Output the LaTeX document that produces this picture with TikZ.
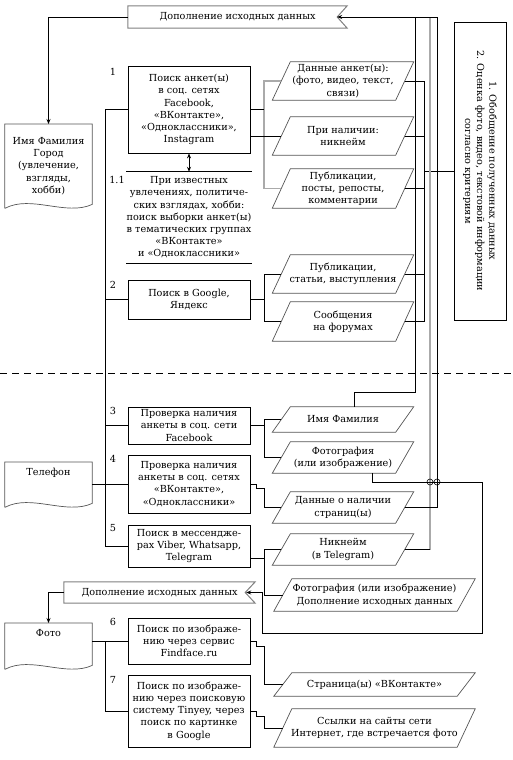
\documentclass[tikz,border=0pt]{standalone}
\usepackage{fontspec}
\setmainfont{DejaVu Serif}
\usetikzlibrary{arrows.meta,calc,positioning}
\definecolor{shapegray}{HTML}{555555}
\definecolor{linegray}{HTML}{AAAAAA}

\begin{document}
\begin{tikzpicture}[x=1pt,y=-1pt,
    every node/.style={font=\fontsize{9.7}{12.2}\selectfont},
    proc/.style={rectangle, draw=black, line width=0.8pt, minimum width=122, align=center, inner xsep=2pt, inner ysep=1pt},
    para/.style={rectangle, minimum width=123, align=center, inner sep=1pt},
    widepara/.style={rectangle, minimum width=183, align=center, inner sep=1pt},
    doc/.style={rectangle, minimum width=87, anchor=north, align=center, inner sep=2pt},
    banner/.style={rectangle, align=center, inner sep=2pt},
    num/.style={inner sep=0pt},
    line/.style={draw=black, line width=0.8pt},
    gline/.style={draw=linegray, line width=1.8pt},
    arr/.style={line, -{Stealth[length=5pt,width=4pt]}},
    outl/.style={draw=shapegray, line width=0.7pt}
]
    \useasboundingbox (0,0) rectangle (512,760);

    % helper columns
    \coordinate (tr) at (105,0);
    \coordinate (bx) at (264,0);
    \coordinate (cx) at (424,0);
    \coordinate (topA) at (415,17);
    \coordinate (topB) at (430,17);
    \coordinate (topC) at (437,17);
    \coordinate (fbA) at (415,392);
    \coordinate (lpA) at (482,482);
    \coordinate (lpB) at (262,633);
    \coordinate (dl) at (0,373);
    \coordinate (dr) at (512,373);

    % Upper part
    \node[banner, minimum width=219, minimum height=22] (ban1) at (237.5,17) {Дополнение исходных данных};
    \node[doc, minimum height=84] (namedoc) at (48.5,124) {Имя Фамилия\\Город\\(увлечение,\\взгляды,\\хобби)};

    \node[proc, minimum height=87] (box1) at (189,109.5) {Поиск анкет(ы)\\в соц. сетях\\Facebook,\\«ВКонтакте»,\\«Одноклассники»,\\Instagram};
    \node[num] (n1) at (113,72) {1};
    \node[rectangle, minimum width=122, minimum height=91, align=center, inner sep=0pt] (n11) at (189,217.5) {При известных\\увлечениях, политиче-\\ских взглядах, хобби:\\поиск выборки анкет(ы)\\в тематических группах\\«ВКонтакте»\\и «Одноклассники»};
    \node[num] (n11lbl) at (117,180) {1.1};
    \node[proc, minimum height=39] (box2) at (189,299.5) {Поиск в Google,\\Яндекс};
    \node[num] (n2) at (113,285) {2};

    \node[para, minimum height=38] (p1) at (343,81) {Данные анкет(ы):\\(фото, видео, текст,\\связи)};
    \node[para, minimum height=38] (p2) at (343,136) {При наличии:\\никнейм};
    \node[para, minimum height=39] (p3) at (343,188.5) {Публикации,\\посты, репосты,\\комментарии};
    \node[para, minimum height=38] (p4) at (343,274) {Публикации,\\статьи, выступления};
    \node[para, minimum height=39] (p5) at (343,321.5) {Сообщения\\на форумах};

    \node[rectangle, draw=black, line width=0.8pt, minimum width=298, minimum height=52, rotate=-90, align=center] (summ) at (480,171) {1. Обобщение полученных данных\\2. Оценка фото, видео, текстовой информации\\согласно критериям};

    % Lower part
    \node[proc, minimum height=37] (box3) at (189,425.5) {Проверка наличия\\анкеты в соц. сети\\Facebook};
    \node[num] (n3) at (113,411) {3};
    \node[proc, minimum height=58] (box4) at (189,484) {Проверка наличия\\анкеты в соц. сетях\\«ВКонтакте»,\\«Одноклассники»};
    \node[num] (n4) at (113,459) {4};
    \node[proc, minimum height=42] (box5) at (189,546) {Поиск в мессендже-\\рах Viber, Whatsapp,\\Telegram};
    \node[num] (n5) at (113,528) {5};
    \node[doc, minimum height=45] (phone) at (48.5,462) {Телефон\\[14pt]\mbox{}};

    \node[para, minimum height=25] (p6) at (343,419.5) {Имя Фамилия};
    \node[para, minimum height=31] (p7) at (343,457.5) {Фотография\\(или изображение)};
    \node[para, minimum height=31] (p8) at (343,507.5) {Данные о наличии\\страниц(ы)};
    \node[para, minimum height=31] (p9) at (343,549.5) {Никнейм\\(в Telegram)};
    \node[widepara, minimum height=32] (p10) at (374.5,595) {Фотография (или изображение)\\Дополнение исходных данных};

    \node[banner, minimum width=191, minimum height=21] (ban2) at (159.5,592.5) {Дополнение исходных данных};
    \node[doc, minimum height=46] (photo) at (48.5,623) {Фото\\[14pt]\mbox{}};
    \node[proc, minimum height=46] (box6) at (189,641) {Поиск по изображе-\\нию через сервис\\Findface.ru};
    \node[num] (n6) at (113,622) {6};
    \node[proc, minimum height=72] (box7) at (189,711) {Поиск по изображе-\\нию через поисковую\\систему Tinyey, через\\поиск по картинке\\в Google};
    \node[num] (n7) at (113,680) {7};
    \node[widepara, minimum height=23] (p11) at (374.5,684.5) {Страница(ы) «ВКонтакте»};
    \node[widepara, minimum height=38] (p12) at (374.5,728) {Ссылки на сайты сети\\Интернет, где встречается фото};

    % Outlines
    \foreach \p in {p1,p2,p3,p4,p5,p6,p7,p8,p9,p10,p11,p12}
        \draw[outl] ([xshift=-9pt]\p.south west) -- ([xshift=9pt]\p.north west) -- ([xshift=9pt]\p.north east) -- ([xshift=-9pt]\p.south east) -- cycle;
    \foreach \b in {ban1,ban2}
        \draw[outl, draw=gray, line width=1pt] (\b.north west) -- (\b.north east) -- ([xshift=-10pt]\b.east) -- (\b.south east) -- (\b.south west) -- cycle;
    \foreach \d in {namedoc,phone,photo}
        \draw[outl] (\d.south west) -- (\d.north west) -- (\d.north east) -- ([yshift=4pt]\d.south east) .. controls ([xshift=-26pt,yshift=-8pt]\d.south east) and ([xshift=26pt,yshift=14pt]\d.south west) .. (\d.south west);
    \draw[line] (n11.north west) -- (n11.north east) (n11.south west) -- (n11.south east);

    % Separator
    \draw[line, dash pattern=on 7pt off 5pt] (dl) -- (dr);

    % Connectors, left
    \draw[arr] (ban1.west) -| (namedoc.north);
    \draw[arr] (ban2.west) -| (photo.north);
    \draw[line] (box1.west) -- (box1.west -| tr) -- (box5.west -| tr) -- (box5.west);
    \draw[line] (box2.west -| tr) -- (box2.west);
    \draw[line] (box3.west -| tr) -- (box3.west);
    \draw[line] (box4.west -| phone.east) -- (box4.west);
    \draw[line] (box6.west -| photo.east) -- (box6.west);
    \draw[line] (box6.west -| tr) -- (box7.west -| tr) -- (box7.west);
    \draw[line, {Stealth[length=5pt,width=4pt]}-{Stealth[length=5pt,width=4pt]}] (box1.south) -- (n11.north);

    % Connectors, right
    \draw[gline] (p1.west) -- (p1.west -| bx) -- (p3.west -| bx) -- (p3.west);
    \draw[line] (box1.east) -- (box1.east -| bx);
    \draw[line] (p2.west -| box1.east) -- (p2.west);
    \draw[line] (box2.east) -- (box2.east -| bx);
    \draw[line] (p4.west) -- (p4.west -| bx) -- (p5.west -| bx) -- (p5.west);
    \foreach \p in {p1,p2,p3,p4,p5}
        \draw[line] (\p.east) -- (\p.east -| cx);
    \draw[line] (p1.east -| cx) -- (p5.east -| cx);
    \draw[line] (summ.south -| cx) -- (summ.south);

    \draw[line] (box3.east) -- (box3.east -| bx);
    \draw[line] (p6.west) -- (p6.west -| bx) -- (p7.west -| bx) -- (p7.west);
    \draw[line] (box4.east) -- ++(6,0) -- ++(0,4) -| (p8.west -| bx) -- (p8.west);
    \draw[line] ([yshift=-12pt]box5.east) -- ([yshift=-12pt]box5.east -| bx);
    \draw[line] (p9.west) -- (p9.west -| bx) -- (p10.west -| bx) -- (p10.west);
    \draw[line] (box6.east) -- ++(6,0) -- ++(0,5) -| (p11.west -| bx) -- (p11.west);
    \draw[line] (box7.east) -- ++(6,0) -- ++(0,5) -| (p12.west -| bx) -- (p12.west);

    % Feedback to the banners
    \draw[gline] (p9.east -| topB) -- (topB);
    \draw[line] (p9.east) -- (p9.east -| topB);
    \draw[arr] ([xshift=11pt]p6.north) |- (fbA) |- ([xshift=-10pt]ban1.east);
    \draw[line] (p8.east) -| (topC) -- (topA);
    \draw[arr] ([xshift=29pt]p7.south) |- (lpA) |- (lpB) |- ([xshift=-9pt]ban2.east);
    \draw[line, line width=0.6pt] (lpA -| topB) circle[radius=3pt] (lpA -| topC) circle[radius=3pt];
\end{tikzpicture}
\end{document}
